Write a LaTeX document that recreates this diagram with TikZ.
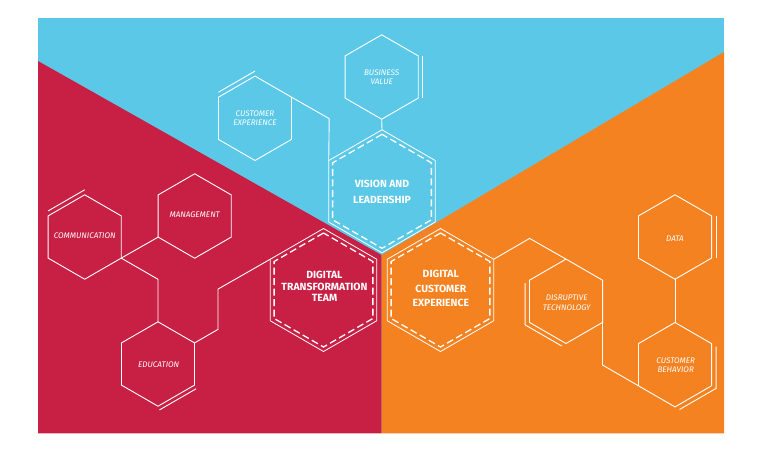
\documentclass[tikz,border=0pt]{standalone}
\usepackage{fontspec}
\setmainfont{Fira Sans}
\usetikzlibrary{shapes.geometric}
\definecolor{skyb}{RGB}{91,200,232}
\definecolor{crim}{RGB}{199,32,68}
\definecolor{orng}{RGB}{245,130,32}
\begin{document}
\begin{tikzpicture}[x=1pt,y=-1pt,
  hexbase/.style={regular polygon, regular polygon sides=6, shape border rotate=30, inner sep=0pt, outer sep=0pt, draw=white},
  smallhex/.style={hexbase, minimum size=84.4pt, line width=0.9pt},
  bighex/.style={hexbase, minimum size=123pt, line width=0.8pt},
  dashhex/.style={hexbase, minimum size=114pt, line width=1.3pt, dash pattern=on 7pt off 3.5pt},
  link/.style={draw=white, line width=0.9pt},
  dbl/.style={draw=white, line width=0.9pt},
  smalltext/.style={text=white, align=center, font=\fontsize{8.1}{9.3}\selectfont\itshape, inner sep=0pt},
  bigtext/.style={text=white, align=center, font=\fontsize{10.4}{#1}\selectfont\bfseries, inner sep=0pt},
]
\useasboundingbox (0,0) rectangle (764,466);
\fill[skyb] (38,18) rectangle (724,433.3);
\fill[crim] (38,61) -- (381.5,255) -- (381.5,433.3) -- (38,433.3) -- cycle;
\fill[orng] (724,52) -- (381.5,255) -- (381.5,433.3) -- (724,433.3) -- cycle;

% central hexagons
\node[bighex] (vis) at (382,191.3) {};
\node[dashhex] (visd) at (vis.center) {};
\node[bigtext=16] (vist) at (382,192) {VISION AND\\LEADERSHIP};
\node[bighex] (dtt) at (323.5,290) {};
\node[dashhex] (dttd) at (dtt.center) {};
\node[bigtext=11.6] (dttt) at (324.5,286.5) {DIGITAL\\TRANSFORMATION\\TEAM};
\node[bighex] (dce) at (440.5,290) {};
\node[dashhex] (dced) at (dce.center) {};
\node[bigtext=14.2] (dcet) at (440.8,288.5) {DIGITAL\\CUSTOMER\\EXPERIENCE};

% small hexagons
\node[smallhex] (ce) at (255,118.3) {};
\node[smalltext] (cet) at (255,118.5) {CUSTOMER\\EXPERIENCE};
\node[smallhex] (bv) at (381.7,77) {};
\node[smalltext] (bvt) at (381.7,77.5) {BUSINESS\\VALUE};
\node[smallhex] (com) at (84.7,237) {};
\node[smalltext] (comt) at (84.7,235.7) {COMMUNICATION};
\node[smallhex] (mgt) at (194.7,216) {};
\node[smalltext] (mgtt) at (194.7,215) {MANAGEMENT};
\node[smallhex] (edu) at (158,364) {};
\node[smalltext] (edut) at (158.7,364.3) {EDUCATION};
\node[smallhex] (dat) at (675,237) {};
\node[smalltext] (datt) at (675,238.3) {DATA};
\node[smallhex] (dt) at (566,301.3) {};
\node[smalltext] (dtxt) at (566.7,302.8) {DISRUPTIVE\\TECHNOLOGY};
\node[smallhex] (cb) at (675,364.7) {};
\node[smalltext] (cbt) at (675.7,365.5) {CUSTOMER\\BEHAVIOR};

% connectors
\coordinate (k1) at (329.2,118.6);
\draw[link] (ce.30) -- (k1) -- (vis.150);
\draw[link] (bv.-90) -- (vis.90);
\draw[link] (com.-30) -- (mgt.-150);
\coordinate (k2) at (158,279.3);
\draw[link] (com.-30) -- (k2) -- (edu.90);
\coordinate (k3) at (218,329.4);
\coordinate (k4) at (218,289.1);
\draw[link] (edu.30) -- (k3) -- (k4) -- (dtt.150);
\coordinate (k5) at (529.6,238.4);
\draw[link] (dce.30) -- (k5) -- (dt.90);
\coordinate (k6) at (602.5,365);
\draw[link] (dt.-30) -- (k6) -- (cb.-150);
\draw[link] (dat.-90) -- (cb.90);

% double accent lines
\draw[dbl] ([yshift=5pt]ce.150) -- ([yshift=5pt]ce.90);
\draw[dbl] ([xshift=4pt]bv.30) -- ([xshift=4pt]bv.-30);
\draw[dbl] ([yshift=5pt]com.150) -- ([yshift=5pt]com.90);
\draw[dbl] ([shift={(1.5pt,-3.7pt)}]edu.-90) -- ([shift={(1.5pt,-3.7pt)}]edu.-30);
\draw[dbl] ([xshift=4.5pt]dat.30) -- ([xshift=4.5pt]dat.-30);
\draw[dbl] ([shift={(4.5pt,-3pt)}]cb.30) -- ([shift={(4.5pt,-2.6pt)}]cb.-30) -- ([shift={(4.5pt,-2.6pt)}]cb.-90);
\draw[dbl] ([shift={(-4.3pt,-3pt)}]dt.150) -- ([shift={(-4.3pt,-2.5pt)}]dt.-150) -- ([shift={(-4.3pt,-2.5pt)}]dt.-90);
\end{tikzpicture}
\end{document}
